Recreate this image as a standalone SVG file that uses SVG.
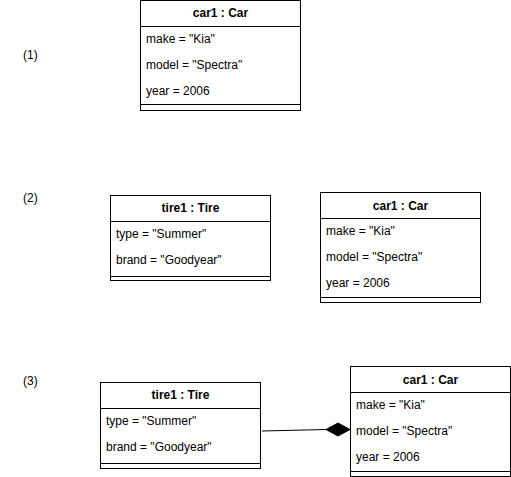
<svg xmlns="http://www.w3.org/2000/svg" width="511" height="477" viewBox="0 0 511 477">
<style>
.box{fill:#fff;stroke:#000;stroke-width:1}
.ln{stroke:#000;stroke-width:1;fill:none}
text{font-family:"Liberation Sans",Arial,sans-serif;font-size:12px;fill:#000}
.h{font-weight:bold;text-anchor:middle}
</style>
<rect width="511" height="477" fill="#fff"/>
<text x="23" y="59">(1)</text>
<text x="23" y="202">(2)</text>
<text x="23" y="385">(3)</text>
<g id="car1-a">
<rect class="box" x="140.5" y="0.5" width="160" height="110"/>
<line class="ln" x1="140.5" y1="26.5" x2="300.5" y2="26.5"/>
<line class="ln" x1="140.5" y1="104.5" x2="300.5" y2="104.5"/>
<text class="h" x="220.5" y="17">car1 : Car</text>
<text x="146" y="43">make = "Kia"</text>
<text x="146" y="69">model = "Spectra"</text>
<text x="146" y="95">year = 2006</text>
</g>
<g id="tire1-b">
<rect class="box" x="110.5" y="195.5" width="160" height="85"/>
<line class="ln" x1="110.5" y1="221.5" x2="270.5" y2="221.5"/>
<line class="ln" x1="110.5" y1="276.5" x2="270.5" y2="276.5"/>
<text class="h" x="190.5" y="212">tire1 : Tire</text>
<text x="116" y="238">type = "Summer"</text>
<text x="116" y="264">brand = "Goodyear"</text>
</g>
<g id="car1-b">
<rect class="box" x="320.5" y="192.5" width="160" height="110"/>
<line class="ln" x1="320.5" y1="218.5" x2="480.5" y2="218.5"/>
<line class="ln" x1="320.5" y1="297.5" x2="480.5" y2="297.5"/>
<text class="h" x="400.5" y="210">car1 : Car</text>
<text x="326" y="235">make = "Kia"</text>
<text x="326" y="261">model = "Spectra"</text>
<text x="326" y="287">year = 2006</text>
</g>
<g id="tire1-c">
<rect class="box" x="100.5" y="382.5" width="160" height="86"/>
<line class="ln" x1="100.5" y1="408.5" x2="260.5" y2="408.5"/>
<line class="ln" x1="100.5" y1="463.5" x2="260.5" y2="463.5"/>
<text class="h" x="180.5" y="399">tire1 : Tire</text>
<text x="106" y="425">type = "Summer"</text>
<text x="106" y="451">brand = "Goodyear"</text>
</g>
<g id="car1-c">
<rect class="box" x="350.5" y="366.5" width="160" height="110"/>
<line class="ln" x1="350.5" y1="392.5" x2="510.5" y2="392.5"/>
<line class="ln" x1="350.5" y1="471.5" x2="510.5" y2="471.5"/>
<text class="h" x="430.5" y="384">car1 : Car</text>
<text x="356" y="409">make = "Kia"</text>
<text x="356" y="435">model = "Spectra"</text>
<text x="356" y="461">year = 2006</text>
</g>
<g id="connectors">
<line class="ln" x1="262" y1="431" x2="326" y2="429.5"/>
<path d="M326,429.5 L338,423 L350,429.5 L338,436 Z" fill="#000" stroke="#000" stroke-width="1"/>
</g>
</svg>
